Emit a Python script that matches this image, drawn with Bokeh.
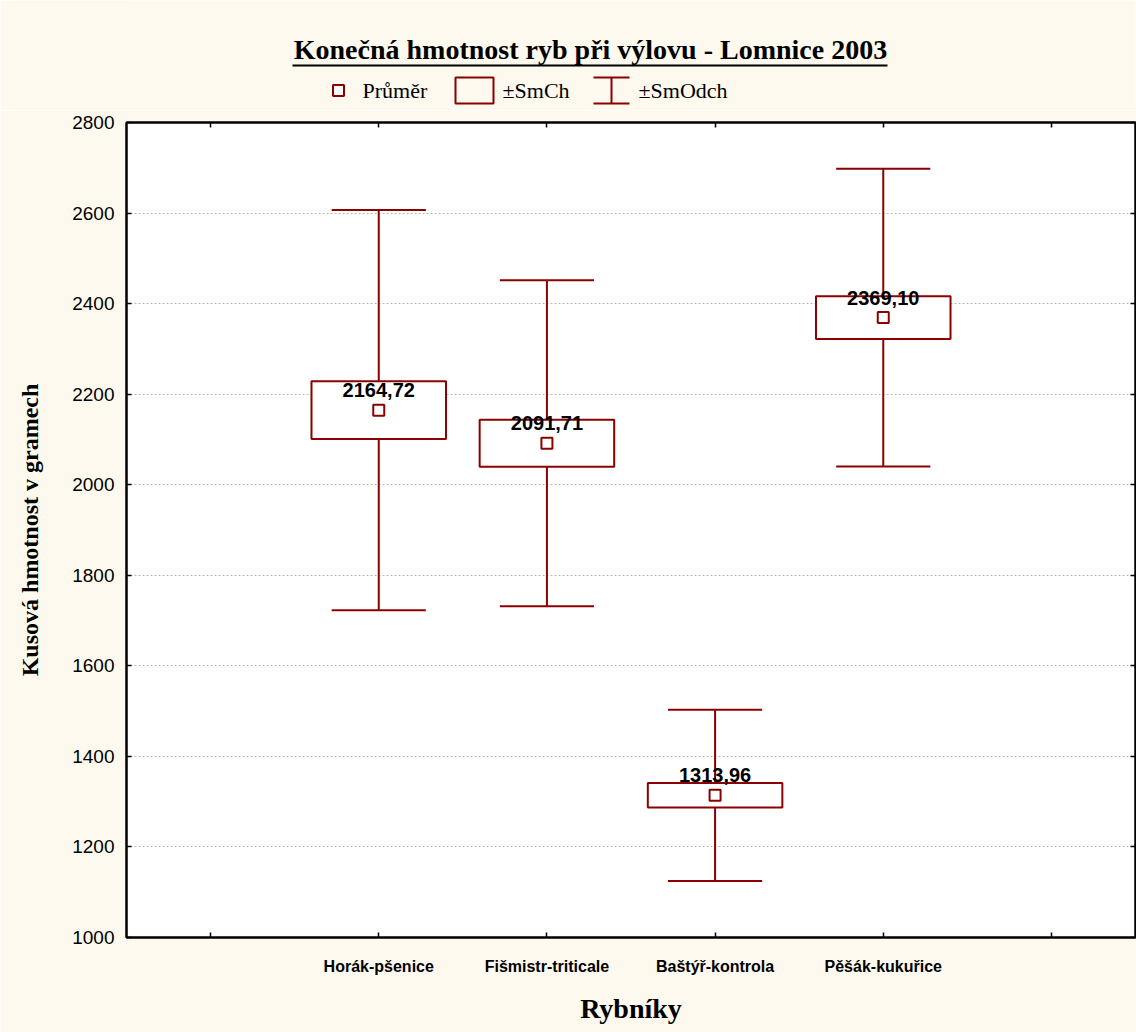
from bokeh.plotting import figure
from bokeh.models import Range1d, FixedTicker, LinearAxis, ColumnDataSource
from bokeh.layouts import column
from bokeh.core.properties import value
from bokeh.embed import file_html
from bokeh.resources import INLINE

# ---- data ----
categories = ["Horák-pšenice", "Fišmistr-triticale", "Baštýř-kontrola", "Pěšák-kukuřice"]
means = [2164.72, 2091.71, 1313.96, 2369.10]
se = [64.0, 52.0, 27.0, 47.0]      # ±SmCh (standard error)
sd = [442.0, 360.0, 189.0, 329.0]  # ±SmOdch (standard deviation)
y_ticks = [1000, 1200, 1400, 1600, 1800, 2000, 2200, 2400, 2600, 2800]

title_text = "Konečná hmotnost ryb při výlovu - Lomnice 2003"
x_label = "Rybníky"
y_label = "Kusová hmotnost v gramech"
legend_labels = ["Průměr", "±SmCh", "±SmOdch"]

# ---- style ----
RED = "#8B0000"
BG = "#FDF9EE"
SERIF = "Liberation Serif"
SANS = "Liberation Sans"
W = 1136
HEAD_H = 110
FL, FR = 126, 1135   # frame left / right (page pixels)

# ================= header (title + legend) =================
h = figure(width=W, height=HEAD_H, x_range=Range1d(FL, FR), y_range=Range1d(HEAD_H, 0),
           x_axis_type=None, y_axis_type=None, output_backend="svg", toolbar_location=None,
           min_border_left=FL, min_border_right=W - FR, min_border_top=0, min_border_bottom=0)
h.background_fill_color = BG
h.border_fill_color = BG
h.outline_line_color = None
h.grid.visible = False

h.text(x=[590], y=[49], text=[title_text], text_align="center", text_baseline="middle",
       text_font=value(SERIF), text_font_style="bold", text_font_size="28px", text_color="black")
h.segment(x0=[292], y0=[65], x1=[887], y1=[65], line_color="black", line_width=2)

# legend icons
h.scatter(x=[338], y=[90], marker="square", size=11, fill_color="white",
          line_color=RED, line_width=2)
h.quad(left=[455], right=[493], top=[77], bottom=[103], fill_color=BG,
       line_color=RED, line_width=2)
h.segment(x0=[611, 593, 593], y0=[77, 77, 103], x1=[611, 629, 629], y1=[103, 77, 103],
          line_color=RED, line_width=2)
h.text(x=[362, 502, 638], y=[90, 90, 90], text=legend_labels, text_align="left",
       text_baseline="middle", text_font=value(SERIF), text_font_size="22px",
       text_color="black")

# ================= main chart =================
positions = list(range(1, len(categories) + 1))
x_ticks = [0] + positions + [len(categories) + 1]
overrides = {t: "" for t in x_ticks}
for pos, c in zip(positions, categories):
    overrides[pos] = c

src = ColumnDataSource(dict(
    x=positions,
    mean=means,
    lo_sd=[m - s for m, s in zip(means, sd)],
    hi_sd=[m + s for m, s in zip(means, sd)],
    lo_se=[m - s for m, s in zip(means, se)],
    hi_se=[m + s for m, s in zip(means, se)],
    box_l=[q - 0.40 for q in positions],
    box_r=[q + 0.40 for q in positions],
    cap_l=[q - 0.28 for q in positions],
    cap_r=[q + 0.28 for q in positions],
    lab=[f"{m:.2f}".replace(".", ",") for m in means],
))

p = figure(width=W, height=1032 - HEAD_H,
           x_range=Range1d(-0.5, len(categories) + 1.5),
           y_range=Range1d(y_ticks[0], y_ticks[-1]),
           output_backend="svg", toolbar_location=None,
           min_border_left=FL, min_border_top=122 - HEAD_H,
           min_border_right=W - FR, min_border_bottom=95)
p.border_fill_color = BG
p.background_fill_color = "white"
p.outline_line_color = "black"
p.outline_line_width = 2

for ax in [p.xaxis[0], p.yaxis[0]]:
    ax.axis_line_width = 2
    ax.axis_line_color = "black"
    ax.major_tick_in = 5
    ax.major_tick_out = 0
    ax.major_tick_line_width = 1.5
    ax.major_tick_line_color = "black"
    ax.minor_tick_line_color = None
    ax.major_label_text_color = "black"
    ax.axis_label_text_color = "black"

xa = p.xaxis[0]
xa.ticker = FixedTicker(ticks=x_ticks)
xa.major_label_overrides = overrides
xa.major_label_text_font = SANS
xa.major_label_text_font_style = "bold"
xa.major_label_text_font_size = "16px"
xa.major_label_standoff = 20
xa.axis_label = x_label
xa.axis_label_text_font = SERIF
xa.axis_label_text_font_style = "bold"
xa.axis_label_text_font_size = "28px"
xa.axis_label_standoff = 15

ya = p.yaxis[0]
ya.ticker = FixedTicker(ticks=y_ticks)
ya.major_label_text_font = SANS
ya.major_label_text_font_style = "normal"
ya.major_label_text_font_size = "19px"
ya.major_label_standoff = 12
ya.axis_label = y_label
ya.axis_label_text_font = SERIF
ya.axis_label_text_font_style = "bold"
ya.axis_label_text_font_size = "24px"
ya.axis_label_standoff = 26

right = LinearAxis(ticker=FixedTicker(ticks=y_ticks), major_label_text_font_size="1px",
                   major_label_text_alpha=0, major_label_standoff=0,
                   major_tick_in=5, major_tick_out=0, minor_tick_line_color=None,
                   axis_line_width=2, major_tick_line_width=1.5, major_tick_line_color="black")
p.add_layout(right, "right")
top = LinearAxis(ticker=FixedTicker(ticks=x_ticks), major_label_text_font_size="1px",
                 major_label_text_alpha=0, major_label_standoff=0,
                 major_tick_in=5, major_tick_out=0, minor_tick_line_color=None,
                 axis_line_width=2, major_tick_line_width=1.5, major_tick_line_color="black")
p.add_layout(top, "above")

p.xgrid.visible = False
p.ygrid.grid_line_color = "#b8b8b8"
p.ygrid.grid_line_dash = "2 2"
p.ygrid.grid_line_width = 1

p.segment(x0="x", y0="lo_sd", x1="x", y1="hi_sd", source=src, line_color=RED, line_width=2)
p.segment(x0="cap_l", y0="hi_sd", x1="cap_r", y1="hi_sd", source=src, line_color=RED, line_width=2)
p.segment(x0="cap_l", y0="lo_sd", x1="cap_r", y1="lo_sd", source=src, line_color=RED, line_width=2)
p.quad(left="box_l", right="box_r", bottom="lo_se", top="hi_se", source=src,
       fill_color="white", line_color=RED, line_width=2)
p.scatter(x="x", y="mean", source=src, marker="square", size=11,
          fill_color="white", line_color=RED, line_width=2)
p.text(x="x", y="mean", text="lab", source=src, text_align="center", text_baseline="bottom",
       y_offset=-13, text_font=value(SANS), text_font_style="bold", text_font_size="20px",
       text_color="black")

layout = column(h, p, spacing=0)
open("out.html", "w").write(file_html(layout, INLINE))
